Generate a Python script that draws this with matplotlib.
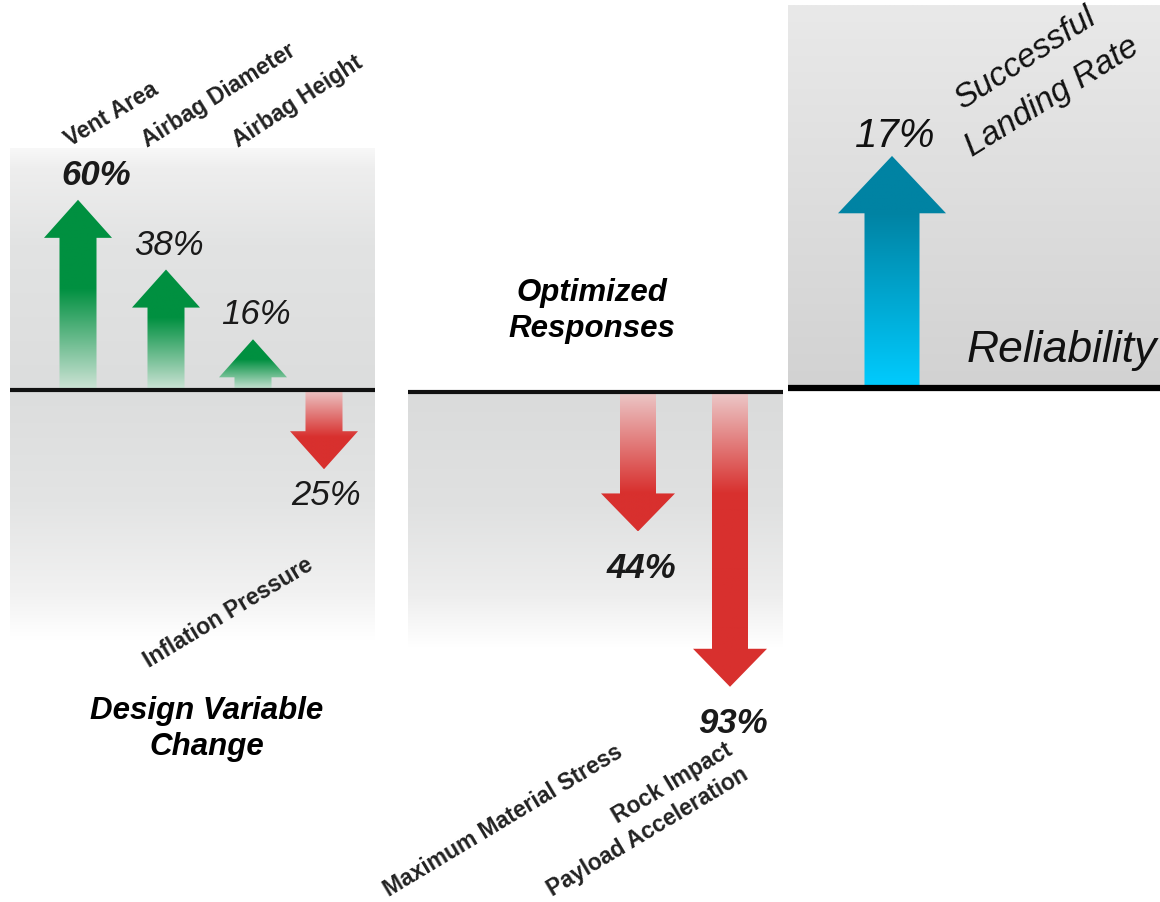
import numpy as np
import matplotlib.pyplot as plt
from matplotlib.patches import Polygon
from matplotlib.colors import to_rgb

# ---- data ----
design_vars = ["Vent Area", "Airbag Diameter", "Airbag Height", "Inflation Pressure"]
design_change = [60, 38, 16, -25]          # percent change
responses = ["Maximum Material Stress", "Rock Impact\nPayload Acceleration"]
response_change = [-44, -93]
reliability_label = "Successful\nLanding Rate"
reliability_change = [17]

W, H = 1160, 902
S = 3.17          # px per percent, left & middle panels
SR = 13.65        # px per percent, reliability panel

FONT = "Liberation Sans"
plt.rcParams["font.family"] = [FONT, "DejaVu Sans"]

fig = plt.figure(figsize=(W / 100, H / 100), dpi=100)


def px_axes(x0, y0, x1, y1):
    ax = fig.add_axes([x0 / W, 1 - y1 / H, (x1 - x0) / W, (y1 - y0) / H])
    ax.set_axis_off()
    return ax


def vgrad(ax, x0, x1, ya, yb, stops, cols):
    # vertical gray gradient: stops are fractions from ya (0) to yb (1)
    t = np.linspace(0, 1, 256)
    rgb = np.array([to_rgb(c) for c in cols])
    img = np.stack([np.interp(t, stops, rgb[:, k]) for k in range(3)], axis=-1)
    img = img[:, None, :]
    lo, hi = min(ya, yb), max(ya, yb)
    if ya > yb:
        img = img[::-1]
    ax.imshow(img[::-1], extent=(x0, x1, lo, hi), aspect="auto",
              interpolation="bilinear", zorder=0)


def arrow(ax, x, v, sw, hw, hh, c_base, c_full, fade):
    sgn = np.sign(v)
    yb = v - sgn * hh
    pts = [(x - sw / 2, 0), (x - sw / 2, yb), (x - hw / 2, yb), (x, v),
           (x + hw / 2, yb), (x + sw / 2, yb), (x + sw / 2, 0)]
    poly = Polygon(pts, closed=True, facecolor="none", edgecolor="none")
    ax.add_patch(poly)
    n = 300
    d = np.linspace(0, abs(v), n)           # distance from base
    f = np.clip(d / fade, 0, 1)
    cb, cf = np.array(to_rgb(c_base)), np.array(to_rgb(c_full))
    cols = cb[None, :] * (1 - f[:, None]) + cf[None, :] * f[:, None]
    img = cols[:, None, :]
    lo, hi = (0, v) if v > 0 else (v, 0)
    if v > 0:
        img = img[::-1]
    im = ax.imshow(img, extent=(x - hw / 2, x + hw / 2, lo, hi), aspect="auto",
                   interpolation="bilinear", zorder=2)
    im.set_clip_path(poly)


# ---- left panel: design variables ----
axL = px_axes(10, 130, 375, 700)
axL.set_xlim(0, 365)
axL.set_ylim(-(700 - 390) / S, (390 - 130) / S)
vgrad(axL, 0, 365, 0, (390 - 148) / S, [0, 0.6, 0.92, 1],
      ["#dcdddd", "#e2e3e3", "#eeeeee", "#f8f8f8"])
vgrad(axL, 0, 365, 0, -(640 - 390) / S, [0, 0.45, 0.8, 1],
      ["#dcdddd", "#e3e4e4", "#f1f1f1", "#ffffff"])
axL.axhline(0, color="#111111", lw=3, zorder=3)
left_x = [68, 156, 243, 314]
label_dx = [18, 3, 3, 2]
for x, dx, v in zip(left_x, label_dx, design_change):
    if v > 0:
        arrow(axL, x, v, 37, 68, 12, "#cfe4d7", "#009040", min(32, 0.6 * v))
        axL.text(x + dx, v + 2.5, f"{v}%", ha="center", va="bottom",
                 fontsize=25, fontstyle="italic",
                 fontweight="bold" if v == 60 else "normal",
                 color="#1a1a1a", zorder=4)
    else:
        arrow(axL, x, v, 37, 68, 12, "#ecc9c9", "#d8302e", min(32, 0.6 * abs(v)))
        axL.text(x + dx, v - 3, f"{abs(v)}%", ha="center", va="top",
                 fontsize=25, fontstyle="italic", color="#1a1a1a", zorder=4)

# ---- middle panel: responses ----
axM = px_axes(408, 130, 783, 720)
axM.set_xlim(0, 375)
axM.set_ylim(-(720 - 392) / S, (392 - 130) / S)
vgrad(axM, 0, 375, 0, -(648 - 392) / S, [0, 0.45, 0.8, 1],
      ["#dadbdb", "#e0e1e1", "#eeeeee", "#ffffff"])
axM.axhline(0, color="#111111", lw=3, zorder=3)
mid_x = [230, 322]
for x, v in zip(mid_x, response_change):
    arrow(axM, x, v, 36, 74, 12, "#ecc9c9", "#d8302e", 32)
    axM.text(x + 3, v - 6.5, f"{abs(v)}%", ha="center", va="top",
             fontsize=25, fontstyle="italic", fontweight="bold",
             color="#1a1a1a", zorder=4)

# ---- right panel: reliability ----
axR = px_axes(788, 0, 1160, 400)
axR.set_xlim(0, 372)
axR.set_ylim(-(400 - 388) / SR, 388 / SR)
vgrad(axR, 0, 372, 0, (388 - 5) / SR, [0, 1], ["#d2d2d2", "#e9e9e9"])
axR.axhline(0, color="#000000", lw=4.5, zorder=3)
for v in reliability_change:
    arrow(axR, 104, v, 55, 108, 4.2, "#00ccff", "#0083a3", v - 4.2)
    axR.text(107, v + 0.1, f"{v}%", ha="center", va="bottom",
             fontsize=29, fontstyle="italic", color="#111111", zorder=4)
axR.text(179, (388 - 362) / SR, "Reliability", ha="left", va="baseline",
         fontsize=32, fontstyle="italic", color="#111111", zorder=4, clip_on=False)


# ---- rotated labels (layout in pixels) ----
def ftext(x, y, s, **kw):
    fig.text(x / W, 1 - y / H, s, rotation_mode="anchor", **kw)


var_pos = [(70, 147, 31), (147, 148, 32), (238, 148, 33), (149, 668, 31)]
for name, (x, y, r) in zip(design_vars, var_pos):
    ftext(x, y, name, rotation=r, ha="left", va="baseline",
          fontsize=16.5, fontweight="bold", color="#222222")

resp_pos = [(389, 897, 31, "left"), (746, 773, 31, "right")]
for name, (x, y, r, al) in zip(responses, resp_pos):
    ftext(x, y, name, rotation=r, ha=al, va="baseline", multialignment=al,
          fontsize=16.5, fontweight="bold", color="#222222", linespacing=1.35)

rel_pos = [(962, 110, 33), (972, 157, 32)]
for line, (x, y, r) in zip(reliability_label.split("\n"), rel_pos):
    ftext(x, y, line, rotation=r, ha="left", va="baseline",
          fontsize=24, fontstyle="italic", color="#111111")

fig.text(207 / W, 1 - 729 / H, "Design Variable\nChange", ha="center", va="center",
         fontsize=22.5, fontweight="bold", fontstyle="italic", linespacing=1.25)
fig.text(592 / W, 1 - 311 / H, "Optimized\nResponses", ha="center", va="center",
         fontsize=22.5, fontweight="bold", fontstyle="italic", linespacing=1.25)

fig.savefig("out.png", dpi=100)
